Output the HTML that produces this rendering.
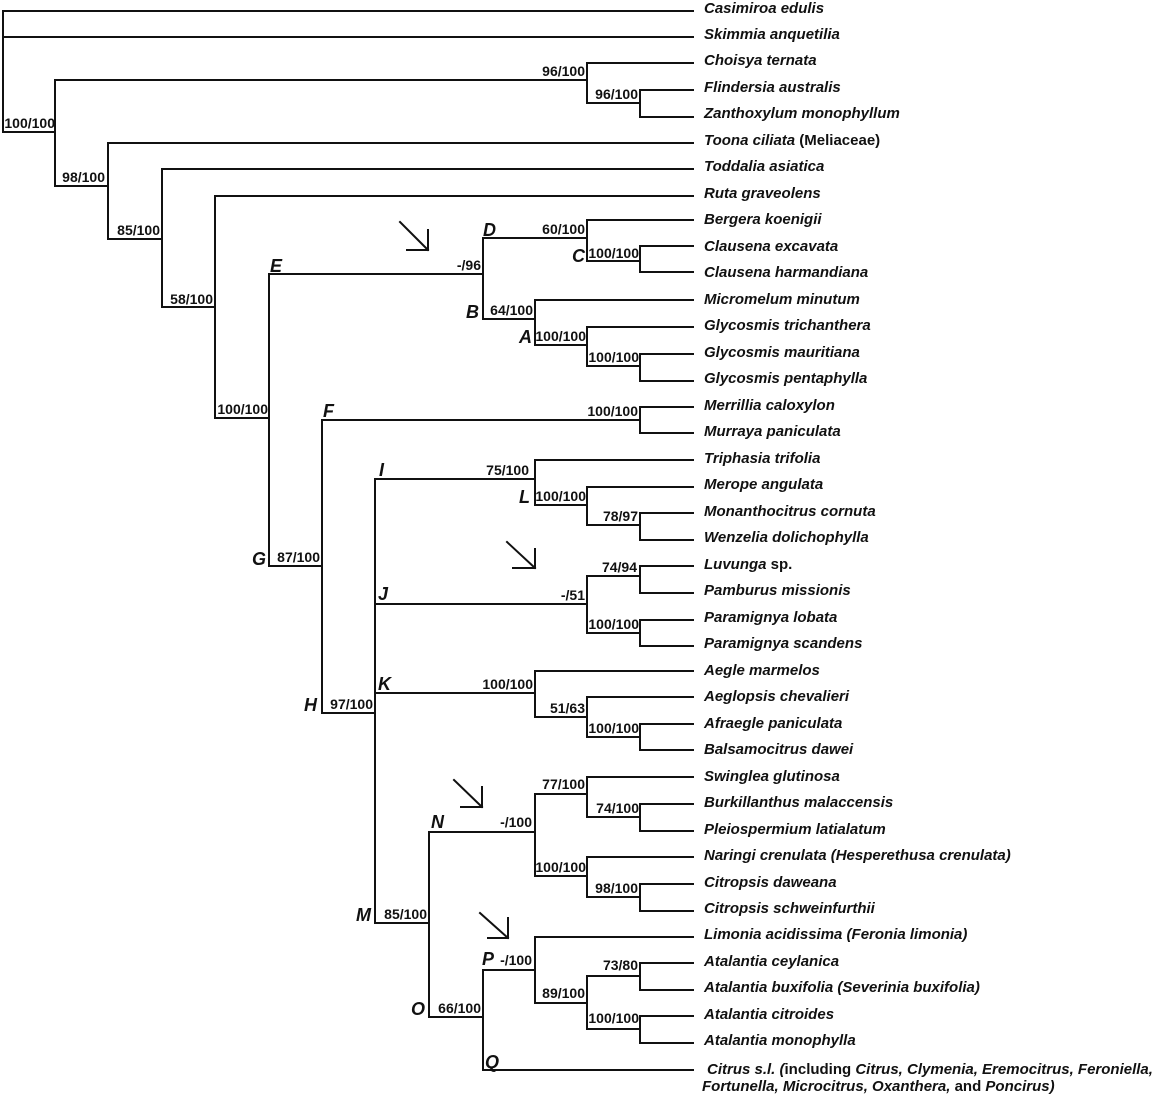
<!DOCTYPE html>
<html><head><meta charset="utf-8"><style>
html,body{margin:0;padding:0;background:#fff;}
svg{display:block;}
text{font-family:"Liberation Sans",Arial,sans-serif;font-weight:bold;fill:#111;}
.n{font-size:14px;text-anchor:end;}
.s{font-size:15px;font-style:italic;}
.r{font-style:normal;}
.l{font-size:18px;font-style:italic;}
</style></head><body>
<svg width="1152" height="1097" viewBox="0 0 1152 1097" xmlns="http://www.w3.org/2000/svg">
<g stroke="#111" stroke-width="2" fill="none" stroke-linecap="square">
<path d="M3 11V132H55 M3 11H693 M3 37H693"/>
<path d="M55 80V186H108 M55 80H587 M587 63V103H640 M587 63H693 M640 90V117 M640 90H693 M640 117H693"/>
<path d="M108 143V239H162 M108 143H693"/>
<path d="M162 169V307H215 M162 169H693"/>
<path d="M215 196V418H269 M215 196H693"/>
<path d="M269 274V566H322 M269 274H483 M483 238V319 M483 238H587 M587 220V261H640 M587 220H693 M640 246V272 M640 246H693 M640 272H693"/>
<path d="M483 319H535 M535 300V345H587 M535 300H693 M587 327V366H640 M587 327H693 M640 354V381 M640 354H693 M640 381H693"/>
<path d="M322 420V713H375 M322 420H640 M640 407V433 M640 407H693 M640 433H693"/>
<path d="M375 479V923 M375 479H535 M535 460V505H587 M535 460H693 M587 487V525H640 M587 487H693 M640 513V540 M640 513H693 M640 540H693"/>
<path d="M375 604H587 M587 576V633 M587 576H640 M640 566V593 M640 566H693 M640 593H693 M587 633H640 M640 620V646 M640 620H693 M640 646H693"/>
<path d="M375 693H535 M535 671V717H587 M535 671H693 M587 697V737H640 M587 697H693 M640 724V750 M640 724H693 M640 750H693"/>
<path d="M375 923H429 M429 832V1017H483 M429 832H535 M535 794V876 M535 794H587 M587 777V817H640 M587 777H693 M640 804V831 M640 804H693 M640 831H693"/>
<path d="M535 876H587 M587 857V897H640 M587 857H693 M640 884V911 M640 884H693 M640 911H693"/>
<path d="M483 970V1070H693 M483 970H535 M535 937V1003H587 M535 937H693 M587 976V1029 M587 976H640 M640 963V990 M640 963H693 M640 990H693 M587 1029H640 M640 1016V1043 M640 1016H693 M640 1043H693"/>
<path d="M400 222L428 250 M407 250H428V230"/>
<path d="M507 542L535 568 M513 568H535V549"/>
<path d="M454 780L482 807 M461 807H482V787"/>
<path d="M480 913L508 938 M488 938H508V918"/>
</g>
<g class="n">
<text x="55" y="128" class="n">100/100</text>
<text x="105" y="182" class="n">98/100</text>
<text x="160" y="235" class="n">85/100</text>
<text x="213" y="304" class="n">58/100</text>
<text x="268" y="414" class="n">100/100</text>
<text x="585" y="76" class="n">96/100</text>
<text x="638" y="99" class="n">96/100</text>
<text x="481" y="270" class="n">-/96</text>
<text x="585" y="234" class="n">60/100</text>
<text x="639" y="258" class="n">100/100</text>
<text x="533" y="315" class="n">64/100</text>
<text x="586" y="341" class="n">100/100</text>
<text x="639" y="362" class="n">100/100</text>
<text x="638" y="416" class="n">100/100</text>
<text x="320" y="562" class="n">87/100</text>
<text x="373" y="709" class="n">97/100</text>
<text x="529" y="475" class="n">75/100</text>
<text x="586" y="501" class="n">100/100</text>
<text x="638" y="521" class="n">78/97</text>
<text x="585" y="600" class="n">-/51</text>
<text x="637" y="572" class="n">74/94</text>
<text x="639" y="629" class="n">100/100</text>
<text x="533" y="689" class="n">100/100</text>
<text x="585" y="713" class="n">51/63</text>
<text x="639" y="733" class="n">100/100</text>
<text x="532" y="827" class="n">-/100</text>
<text x="585" y="789" class="n">77/100</text>
<text x="639" y="813" class="n">74/100</text>
<text x="586" y="872" class="n">100/100</text>
<text x="638" y="893" class="n">98/100</text>
<text x="427" y="919" class="n">85/100</text>
<text x="481" y="1013" class="n">66/100</text>
<text x="532" y="965" class="n">-/100</text>
<text x="585" y="998" class="n">89/100</text>
<text x="638" y="970" class="n">73/80</text>
<text x="639" y="1023" class="n">100/100</text>
</g>
<g class="l">
<text x="270" y="272">E</text>
<text x="483" y="236">D</text>
<text x="572" y="262">C</text>
<text x="466" y="318">B</text>
<text x="519" y="343">A</text>
<text x="323" y="417">F</text>
<text x="252" y="565">G</text>
<text x="304" y="711">H</text>
<text x="379" y="476">I</text>
<text x="519" y="503">L</text>
<text x="378" y="600">J</text>
<text x="378" y="690">K</text>
<text x="431" y="828">N</text>
<text x="356" y="921">M</text>
<text x="411" y="1015">O</text>
<text x="482" y="965">P</text>
<text x="485" y="1068">Q</text>
</g>
<g class="s">
<text x="704" y="13">Casimiroa edulis</text>
<text x="704" y="39">Skimmia anquetilia</text>
<text x="704" y="65">Choisya ternata</text>
<text x="704" y="92">Flindersia australis</text>
<text x="704" y="118">Zanthoxylum monophyllum</text>
<text x="704" y="145">Toona ciliata <tspan class="r">(Meliaceae)</tspan></text>
<text x="704" y="171">Toddalia asiatica</text>
<text x="704" y="198">Ruta graveolens</text>
<text x="704" y="224">Bergera koenigii</text>
<text x="704" y="251">Clausena excavata</text>
<text x="704" y="277">Clausena harmandiana</text>
<text x="704" y="304">Micromelum minutum</text>
<text x="704" y="330">Glycosmis trichanthera</text>
<text x="704" y="357">Glycosmis mauritiana</text>
<text x="704" y="383">Glycosmis pentaphylla</text>
<text x="704" y="410">Merrillia caloxylon</text>
<text x="704" y="436">Murraya paniculata</text>
<text x="704" y="463">Triphasia trifolia</text>
<text x="704" y="489">Merope angulata</text>
<text x="704" y="516">Monanthocitrus cornuta</text>
<text x="704" y="542">Wenzelia dolichophylla</text>
<text x="704" y="569">Luvunga <tspan class="r">sp.</tspan></text>
<text x="704" y="595">Pamburus missionis</text>
<text x="704" y="622">Paramignya lobata</text>
<text x="704" y="648">Paramignya scandens</text>
<text x="704" y="675">Aegle marmelos</text>
<text x="704" y="701">Aeglopsis chevalieri</text>
<text x="704" y="728">Afraegle paniculata</text>
<text x="704" y="754">Balsamocitrus dawei</text>
<text x="704" y="781">Swinglea glutinosa</text>
<text x="704" y="807">Burkillanthus malaccensis</text>
<text x="704" y="834">Pleiospermium latialatum</text>
<text x="704" y="860">Naringi crenulata (Hesperethusa crenulata)</text>
<text x="704" y="887">Citropsis daweana</text>
<text x="704" y="913">Citropsis schweinfurthii</text>
<text x="704" y="939">Limonia acidissima (Feronia limonia)</text>
<text x="704" y="966">Atalantia ceylanica</text>
<text x="704" y="992">Atalantia buxifolia (Severinia buxifolia)</text>
<text x="704" y="1019">Atalantia citroides</text>
<text x="704" y="1045">Atalantia monophylla</text>
<text x="707" y="1074">Citrus s.l. (<tspan class="r">including </tspan>Citrus, Clymenia, Eremocitrus, Feroniella,</text>
<text x="702" y="1091">Fortunella, Microcitrus, Oxanthera, <tspan class="r">and </tspan>Poncirus)</text>
</g>
</svg>
</body></html>
